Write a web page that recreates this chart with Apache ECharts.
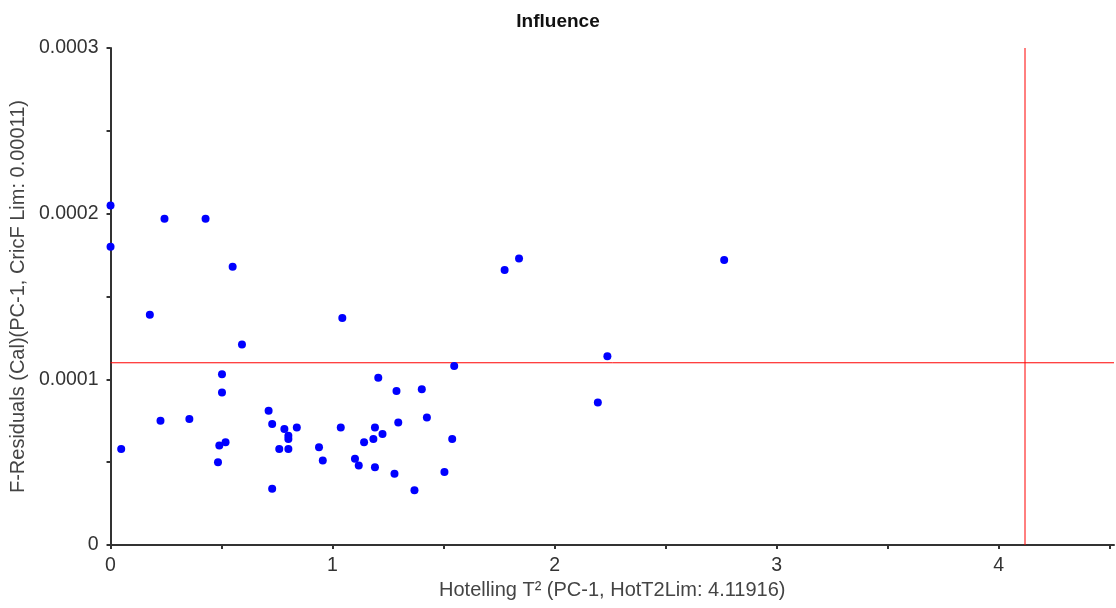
<!DOCTYPE html>
<html>
<head>
<meta charset="utf-8">
<title>Influence</title>
<script src="https://cdn.jsdelivr.net/npm/echarts@6/dist/echarts.min.js"></script>
<style>
  html, body { margin: 0; padding: 0; background: #fff; }
  #chart { width: 1116px; height: 608px; }
</style>
</head>
<body>
<div id="chart"></div>
<script>
// Hotelling T² per sample
const hotellingT2 = [
  0, 0.243, 0.428, 0, 0.550, 0.177, 0.592, 0.502, 0.502, 0.712,
  0.225, 0.355, 0.728, 0.783, 0.839, 0.801, 0.801, 0.760, 0.801, 0.048,
  0.490, 0.518, 0.484, 0.728, 1.206, 1.288, 1.402, 1.548, 1.037, 1.191,
  1.296, 1.425, 1.225, 1.184, 1.142, 1.539, 0.939, 0.956, 1.101, 1.118,
  1.191, 1.279, 1.504, 1.369, 1.044, 1.775, 1.840, 2.238, 2.195, 2.764
];
// F-residuals (calibration) per sample
const fResiduals = [
  0.000205, 0.000197, 0.000197, 0.000180, 0.000168, 0.000139, 0.000121, 0.000103, 0.000092, 0.000081,
  0.000075, 0.000076, 0.000073, 0.000070, 0.000071, 0.000066, 0.000064, 0.000058, 0.000058, 0.000058,
  0.000060, 0.000062, 0.000050, 0.000034, 0.000101, 0.000093, 0.000094, 0.000108, 0.000071, 0.000071,
  0.000074, 0.000077, 0.000067, 0.000064, 0.000062, 0.000064, 0.000059, 0.000051, 0.000052, 0.000048,
  0.000047, 0.000043, 0.000044, 0.000033, 0.000137, 0.000166, 0.000173, 0.000114, 0.000086, 0.000172
];
const hotT2Lim = 4.11916;
const cricFLim = 0.00011;

const xMin = 0, xMax = 4.52;
const yMin = 0, yMax = 0.0003;
const xTickValues = [0, 0.5, 1, 1.5, 2, 2.5, 3, 3.5, 4, 4.5];
const xLabelValues = [0, 1, 2, 3, 4];
const yTickValues = [0, 0.00005, 0.0001, 0.00015, 0.0002, 0.00025, 0.0003];
const yLabelValues = [0, 0.0001, 0.0002, 0.0003];

const points = hotellingT2.map((x, i) => [x, fResiduals[i]]);
const font = '"Liberation Sans", Arial, sans-serif';

// limit lines span the whole plot
const limitLine = (data) => ({
  type: 'line',
  data,
  symbol: 'none',
  silent: true,
  z: 1,
  lineStyle: { color: '#ff0000', width: 1 }
});

const chart = echarts.init(document.getElementById('chart'));
chart.setOption({
  animation: false,
  title: {
    text: 'Influence',
    left: 'center',
    top: 7,
    textStyle: { fontFamily: font, fontSize: 19, fontWeight: 'bold', color: '#111' }
  },
  grid: { left: 110, right: 2, top: 48, bottom: 63, containLabel: false },
  xAxis: {
    type: 'value',
    min: xMin,
    max: xMax,
    name: 'Hotelling T² (PC-1, HotT2Lim: 4.11916)',
    nameLocation: 'middle',
    nameGap: 29,
    nameTextStyle: { fontFamily: font, fontSize: 20, color: '#444' },
    axisLine: { show: true, onZero: false, lineStyle: { color: '#333', width: 2 } },
    axisTick: { show: true, customValues: xTickValues, length: 4, lineStyle: { color: '#333', width: 2 } },
    axisLabel: { customValues: xLabelValues, fontFamily: font, fontSize: 19.5, color: '#333', margin: 11 },
    splitLine: { show: false }
  },
  yAxis: {
    type: 'value',
    min: yMin,
    max: yMax,
    name: 'F-Residuals (Cal)(PC-1, CricF Lim: 0.00011)',
    nameLocation: 'middle',
    nameGap: 68,
    nameTextStyle: { fontFamily: font, fontSize: 20, color: '#444' },
    axisLine: { show: true, onZero: false, lineStyle: { color: '#333', width: 2 } },
    axisTick: { show: true, customValues: yTickValues, length: 4, lineStyle: { color: '#333', width: 2 } },
    axisLabel: { customValues: yLabelValues, fontFamily: font, fontSize: 19.5, color: '#333', margin: 12 },
    splitLine: { show: false }
  },
  series: [
    limitLine([[hotT2Lim, yMin], [hotT2Lim, yMax]]),
    limitLine([[xMin, cricFLim], [xMax, cricFLim]]),
    {
      type: 'scatter',
      data: points,
      symbolSize: 8,
      z: 3,
      itemStyle: { color: '#0000ff', opacity: 1 }
    }
  ]
});
window.addEventListener('resize', () => chart.resize());
</script>
</body>
</html>
